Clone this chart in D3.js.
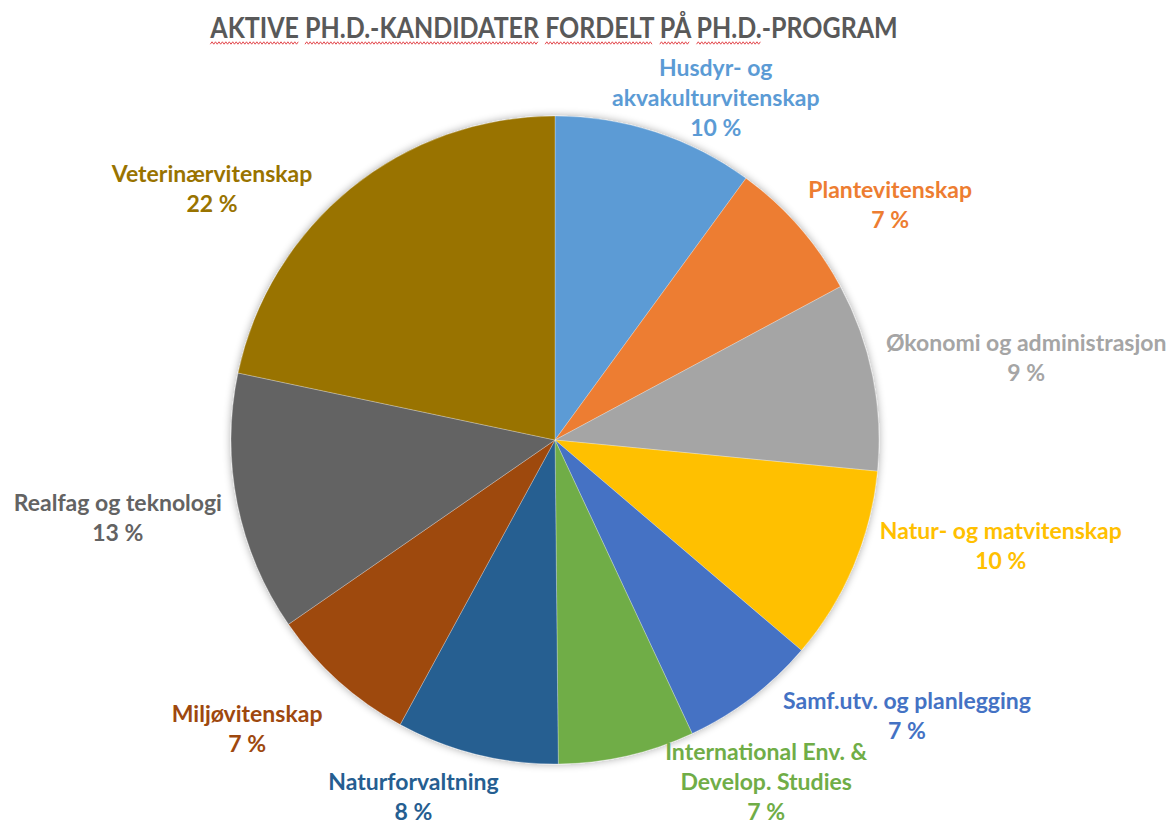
<!DOCTYPE html>
<html>
<head>
<meta charset="utf-8">
<script src="https://cdn.jsdelivr.net/npm/d3@7"></script>
<style>
  body { margin: 0; background: #fff; }
  svg text { font-family: Lato, "Open Sans", sans-serif; font-weight: bold; }
</style>
</head>
<body>
<svg id="chart"></svg>
<script>
// Ph.D. programmes, clockwise from 12 o'clock
const programs = [
    "Husdyr- og akvakulturvitenskap",
    "Plantevitenskap",
    "Økonomi og administrasjon",
    "Natur- og matvitenskap",
    "Samf.utv. og planlegging",
    "International Env. & Develop. Studies",
    "Naturforvaltning",
    "Miljøvitenskap",
    "Realfag og teknologi",
    "Veterinærvitenskap"
];
// active candidates (estimated counts)
const candidates = [31, 22, 29, 30, 21, 21, 25, 23, 40, 67];
const labelLines = [
    ["Husdyr- og", "akvakulturvitenskap"],
    ["Plantevitenskap"],
    ["Økonomi og administrasjon"],
    ["Natur- og matvitenskap"],
    ["Samf.utv. og planlegging"],
    ["International Env. &", "Develop. Studies"],
    ["Naturforvaltning"],
    ["Miljøvitenskap"],
    ["Realfag og teknologi"],
    ["Veterinærvitenskap"]
];
const colors = ["#5B9BD5", "#ED7D31", "#A5A5A5", "#FFC000", "#4472C4",
                "#70AD47", "#255E91", "#9E480E", "#636363", "#997300"];
// label placement: angle (deg, clockwise from top) and distance in radii
const labelAngle = [25.7, 55.9, 81.1, 104.3, 128.9, 148.9, 201.2, 226.0, 258.9, 305.3];
const labelDist = [1.144, 1.249, 1.472, 1.420, 1.396, 1.262, 1.208, 1.321, 1.375, 1.297];

const title = "AKTIVE PH.D.-KANDIDATER FORDELT PÅ PH.D.-PROGRAM";
const spellFlagged = ["AKTIVE", "PH.D.-KANDIDATER", "FORDELT", "PÅ", "PH.D."];

const width = 1173, height = 825;
const cx = 555, cy = 440, radius = 324;
const lineH = 30;

const svg = d3.select("#chart").attr("width", width).attr("height", height);

const defs = svg.append("defs");
const shadow = defs.append("filter").attr("id", "soft")
    .attr("x", "-10%").attr("y", "-10%").attr("width", "120%").attr("height", "120%");
shadow.append("feGaussianBlur").attr("in", "SourceAlpha").attr("stdDeviation", 4).attr("result", "b");
shadow.append("feComponentTransfer").attr("in", "b").attr("result", "s")
    .append("feFuncA").attr("type", "linear").attr("slope", 0.35);
const merge = shadow.append("feMerge");
merge.append("feMergeNode").attr("in", "s");
merge.append("feMergeNode").attr("in", "SourceGraphic");

// title
const tg = svg.append("g").attr("transform", `translate(554,38) scale(0.862,1)`);
const tt = tg.append("text")
    .attr("text-anchor", "middle")
    .attr("font-size", 29)
    .attr("fill", "#595959")
    .text(title);
let from = 0;
spellFlagged.forEach((w) => {
    const i = title.indexOf(w, from);
    from = i + w.length;
    const x0 = tt.node().getStartPositionOfChar(i).x;
    const x1 = tt.node().getEndPositionOfChar(i + w.length - 1).x;
    const pts = [];
    for (let x = x0, k = 0; x <= x1; x += 2, k++) pts.push([x, 5 + (k % 2 ? -1.2 : 1.2)]);
    tg.append("path")
        .attr("d", d3.line()(pts))
        .attr("fill", "none")
        .attr("stroke", "#e0393e")
        .attr("stroke-width", 1);
});

const total = d3.sum(candidates);
const data = programs.map((p, i) => ({ name: p, value: candidates[i], i: i }));
const pie = d3.pie().sort(null).value((d) => d.value);
const arc = d3.arc().innerRadius(0).outerRadius(radius);
const arcs = pie(data);

const g = svg.append("g").attr("transform", `translate(${cx},${cy})`);
g.append("g").attr("filter", "url(#soft)")
    .selectAll("path")
    .data(arcs)
    .enter().append("path")
    .attr("d", arc)
    .attr("fill", (d) => colors[d.data.i])
    .attr("stroke", "#ffffff")
    .attr("stroke-opacity", 0.35)
    .attr("stroke-width", 0.8);

const fmt = d3.format(".0f");
const labels = g.selectAll(".label")
    .data(arcs)
    .enter().append("g")
    .attr("class", "label")
    .attr("transform", (d) => {
        const a = labelAngle[d.data.i] * Math.PI / 180;
        const r = labelDist[d.data.i] * radius;
        return `translate(${r * Math.sin(a)},${-r * Math.cos(a)})`;
    });
labels.each(function (d) {
    const lines = labelLines[d.data.i].concat([fmt(d.data.value / total * 100) + " %"]);
    const y0 = -(lines.length - 1) * lineH / 2;
    const t = d3.select(this).append("text")
        .attr("text-anchor", "middle")
        .attr("font-size", 23)
        .attr("fill", colors[d.data.i]);
    lines.forEach((l, k) => {
        t.append("tspan").attr("x", 0).attr("y", y0 + k * lineH).text(l);
    });
});
</script>
</body>
</html>
